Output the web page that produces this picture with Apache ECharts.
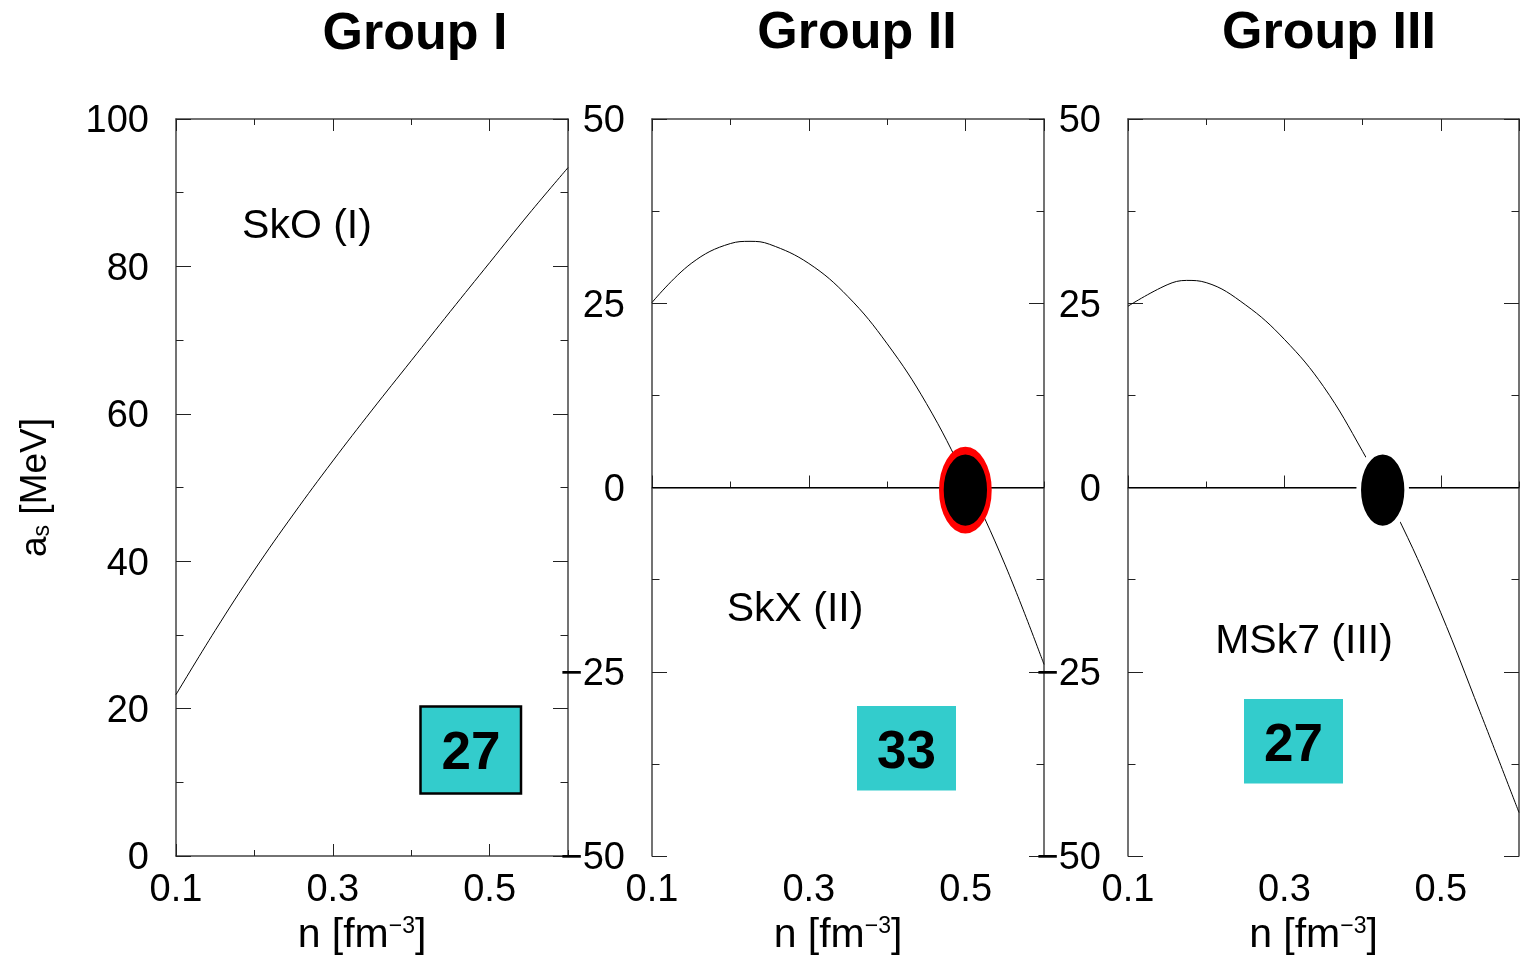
<!DOCTYPE html>
<html><head><meta charset="utf-8">
<script src="https://cdn.jsdelivr.net/npm/echarts@6/dist/echarts.min.js"></script>
<style>html,body{margin:0;padding:0;background:#fff}#c{width:1520px;height:962px}</style>
</head><body><div id="c"></div>
<script>
// ---- data ----
const skO_n  = [0.1, 0.15, 0.2, 0.25, 0.3, 0.35, 0.4, 0.45, 0.5, 0.55, 0.6];
const skO    = [21.9, 30.6, 38.8, 46.4, 53.6, 60.5, 67.2, 73.9, 80.5, 87.1, 93.4];
const skX_n  = [0.1, 0.15, 0.2, 0.225, 0.25, 0.3, 0.35, 0.4, 0.45, 0.5, 0.55, 0.6];
const skX    = [25.1, 30.4, 33.1, 33.4, 33.0, 30.4, 25.9, 19.5, 11.4, 1.2, -10.4, -24.0];
const msk7_n = [0.1, 0.15, 0.175, 0.2, 0.25, 0.3, 0.35, 0.4, 0.45, 0.5, 0.55, 0.6];
const msk7   = [24.6, 27.5, 28.1, 27.8, 24.8, 20.1, 13.7, 4.9, -5.1, -17.0, -30.4, -44.1];
const curveN = [skO_n, skX_n, msk7_n];
const curves = [skO, skX, msk7];
const markerN = [null, 0.4997, 0.4257];
const markerA = [null, -0.35, -0.35];
const yMin = [0, -50, -50];
const yMax = [100, 50, 50];
const yStep = [20, 25, 25];
const xMin = 0.1, xMax = 0.6, xMajor = 0.2, xMinor = 0.1;
const groupTitles = ['Group I', 'Group II', 'Group III'];
const modelNames = ['SkO (I)', 'SkX (II)', 'MSk7 (III)'];
const boxValues = ['27', '33', '27'];

// ---- layout / style ----
const FONT = 'Liberation Sans, Arial, Helvetica, sans-serif';
const lefts = [176, 652, 1128];
const widths = [392, 392, 391];
const TOP = 119, H = 737;
const frameColor = '#444';
const titleY = [35, 34, 34];
const titleX = [415, 857, 1329];
const modelPos = [[307, 227], [795, 610], [1304, 641.5]];
const boxRects = [[420.5, 706.5, 100.5, 87], [857, 706, 99, 84.5], [1244, 699, 99, 84.5]];
const boxText = [[471, 754], [906.5, 753], [1293.5, 746]];
const markerBorder = [null, '#ff0000', '#ffffff'];

const fmtY = v => '{v|' + (v < 0 ? '\u2212' + Math.abs(v) : String(v)) + '}';

const grid = [], xAxis = [], yAxis = [], series = [], graphic = [];
for (let i = 0; i < 3; i++) {
  grid.push({ left: lefts[i], top: TOP, width: widths[i], height: H, show: false });
  const baseX = { gridIndex: i, type: 'value', min: xMin, max: xMax, splitLine: { show: false } };
  xAxis.push(Object.assign({}, baseX, {
    position: 'bottom', interval: xMajor,
    axisLine: { show: true, lineStyle: { color: frameColor, width: 1.5 } },
    axisTick: { show: true, inside: true, length: 12, lineStyle: { color: '#222', width: 1 } },
    axisLabel: { show: true, showMaxLabel: false, margin: 16, fontSize: 38, color: '#000', fontFamily: FONT,
      formatter: v => v.toFixed(1) },
    name: 'n [fm{sup|\u22123}]', nameLocation: 'middle', nameGap: 59,
    nameTextStyle: { fontSize: 41, color: '#000', fontFamily: FONT, padding: [0, 20, 0, 0],
      rich: { sup: { fontSize: 23, verticalAlign: 'top', fontFamily: FONT, color: '#000' } } }
  }));
  xAxis.push(Object.assign({}, baseX, {
    position: 'bottom', interval: xMinor,
    axisLine: { show: false }, axisLabel: { show: false },
    axisTick: { show: true, inside: true, length: 6, lineStyle: { color: '#222', width: 1 } }
  }));
  xAxis.push(Object.assign({}, baseX, {
    position: 'top', interval: xMajor,
    axisLine: { show: true, lineStyle: { color: frameColor, width: 1.5 } },
    axisTick: { show: true, inside: true, length: 12, lineStyle: { color: '#222', width: 1 } },
    axisLabel: { show: false }
  }));
  xAxis.push(Object.assign({}, baseX, {
    position: 'top', interval: xMinor,
    axisLine: { show: false }, axisLabel: { show: false },
    axisTick: { show: true, inside: true, length: 6, lineStyle: { color: '#222', width: 1 } }
  }));
  const baseY = { gridIndex: i, type: 'value', min: yMin[i], max: yMax[i], interval: yStep[i],
    splitLine: { show: false },
    axisLine: { show: true, lineStyle: { color: frameColor, width: 1.5 } },
    axisTick: { show: true, inside: true, length: 15, lineStyle: { color: '#222', width: 1 } },
    minorTick: { show: true, splitNumber: 2, length: 7.5, lineStyle: { color: '#222', width: 1 } } };
  const leftY = Object.assign({}, baseY, {
    position: 'left',
    axisLabel: { show: true, margin: 27, fontSize: 38, color: '#000', fontFamily: FONT, formatter: fmtY,
      rich: { v: { fontSize: 38, color: '#000', fontFamily: FONT, padding: [6, 0, 0, 0] } } }
  });
  if (i === 0) {
    Object.assign(leftY, {
      name: 'a{sub|s} [MeV]', nameLocation: 'middle', nameGap: 122,
      nameTextStyle: { fontSize: 37, color: '#000', fontFamily: FONT,
        rich: { sub: { fontSize: 23, verticalAlign: 'bottom', fontFamily: FONT, color: '#000' } } }
    });
  }
  yAxis.push(leftY);
  yAxis.push(Object.assign({}, baseY, { position: 'right', axisLabel: { show: false } }));

  const s = {
    type: 'line', xAxisIndex: i * 4, yAxisIndex: i * 2,
    data: curveN[i].map((n, j) => [n, curves[i][j]]),
    smooth: 0.4, showSymbol: false, silent: true,
    lineStyle: { color: '#000', width: 1 }, z: 2
  };
  if (i > 0) {
    s.markLine = { silent: true, symbol: 'none', label: { show: false },
      lineStyle: { color: '#000', width: 1, type: 'solid' }, data: [{ yAxis: 0 }] };
    series.push(s);
    series.push({
      type: 'scatter', xAxisIndex: i * 4, yAxisIndex: i * 2, silent: true, z: 5,
      symbol: 'path://M50,0A50,50,0,1,1,50,100A50,50,0,1,1,50,0Z',
      symbolSize: [48, 79],
      itemStyle: { color: '#000', borderColor: markerBorder[i], borderWidth: 6, opacity: 1 },
      data: [[markerN[i], markerA[i]]]
    });
  } else {
    series.push(s);
  }

  graphic.push({ type: 'text', x: titleX[i], y: titleY[i], silent: true,
    style: { text: groupTitles[i], fontSize: 52, fontWeight: 'bold', fontFamily: FONT, fill: '#000',
      align: 'center', verticalAlign: 'middle' } });
  graphic.push({ type: 'text', x: modelPos[i][0], y: modelPos[i][1], silent: true,
    style: { text: modelNames[i], fontSize: 41, fontFamily: FONT, fill: '#000',
      align: 'center', verticalAlign: 'middle' } });
  const r = boxRects[i];
  graphic.push({ type: 'rect', silent: true, z: 10,
    shape: { x: r[0], y: r[1], width: r[2], height: r[3] },
    style: { fill: '#33cccc', stroke: i === 0 ? '#000' : null, lineWidth: i === 0 ? 2.5 : 0 } });
  graphic.push({ type: 'text', silent: true, z: 11, x: boxText[i][0], y: boxText[i][1],
    style: { text: boxValues[i], fontSize: 53, fontWeight: 'bold', fontFamily: FONT, fill: '#000',
      align: 'center', verticalAlign: 'middle' } });
}

const chart = echarts.init(document.getElementById('c'), null, { renderer: 'canvas' });
chart.setOption({ animation: false, backgroundColor: '#fff', grid, xAxis, yAxis, series, graphic });
</script></body></html>
